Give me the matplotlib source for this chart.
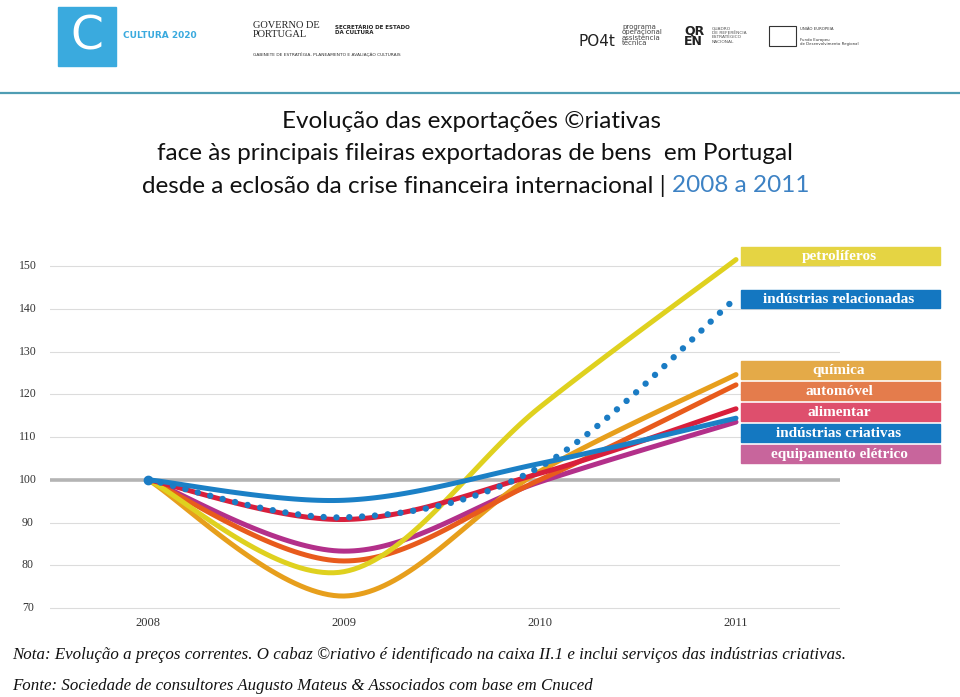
import numpy as np
import matplotlib
matplotlib.use("Agg")
import matplotlib.pyplot as plt
from matplotlib.patches import Rectangle

# data (index, 2008 = 100)
years = [2008, 2009, 2010, 2011]
petroliferos = [100, 78.5, 117.0, 151.5]
relacionadas = [100, 91.2, 103.0, 142.5]
quimica = [100, 72.8, 102.0, 124.6]
automovel = [100, 81.0, 100.0, 122.2]
alimentar = [100, 90.7, 101.5, 116.6]
criativas = [100, 95.2, 103.8, 114.4]
eletrico = [100, 83.3, 99.5, 113.5]

legend_labels = ["petrolíferos", "indústrias relacionadas", "química", "automóvel",
                 "alimentar", "indústrias criativas", "equipamento elétrico"]
yticks = [70, 80, 90, 100, 110, 120, 130, 140, 150]

W, H = 960, 697


def smooth(xs, ys, n=40):
    # excel-like smoothed line (bezier through the points)
    P = np.column_stack([xs, ys]).astype(float)
    out = []
    for i in range(len(P) - 1):
        p0 = P[max(i - 1, 0)]
        p1 = P[i]
        p2 = P[i + 1]
        p3 = P[min(i + 2, len(P) - 1)]
        c1 = p1 + (p2 - p0) / 6
        c2 = p2 - (p3 - p1) / 6
        t = np.linspace(0, 1, n)[:, None]
        seg = (1 - t) ** 3 * p1 + 3 * (1 - t) ** 2 * t * c1 + 3 * (1 - t) * t ** 2 * c2 + t ** 3 * p2
        out.append(seg if i == 0 else seg[1:])
    s = np.vstack(out)
    return s[:, 0], s[:, 1]


fig = plt.figure(figsize=(W / 100, H / 100), dpi=100)

# pixel -> data mapping of the plot
px_per_year = 196.0
px_per_unit = 4.275
ax_l, ax_r = 50, 840
ax_t, ax_b = 255, 615
x0 = 2008 - (148 - ax_l) / px_per_year
x1 = 2008 + (ax_r - 148) / px_per_year
y0 = 70 - (ax_b - 608) / px_per_unit
y1 = 150 + (266 - ax_t) / px_per_unit

ax = fig.add_axes([ax_l / W, 1 - ax_b / H, (ax_r - ax_l) / W, (ax_b - ax_t) / H])
ax.set_xlim(x0, x1)
ax.set_ylim(y0, y1)
for s in ax.spines.values():
    s.set_visible(False)
ax.set_xticks([])
ax.set_yticks([])

for v in yticks:
    if v == 100:
        ax.axhline(v, color="#b4b4b4", lw=2.6, zorder=1)
    else:
        ax.axhline(v, color="#dcdcdc", lw=0.8, zorder=0)
    ax.text(x0 - 22 / px_per_year, v, str(v), ha="center", va="center",
            fontsize=8.5, family="Liberation Serif", color="#333333")

for yr in years:
    ax.text(yr, y0 - 2 / px_per_unit, str(yr), ha="center", va="top",
            fontsize=9, family="Liberation Serif", color="#333333")

lines = [
    (eletrico, "#b3308a"),
    (quimica, "#e79f1c"),
    (automovel, "#e85b1c"),
    (petroliferos, "#dfd11f"),
    (alimentar, "#d81f3c"),
    (criativas, "#1b80c6"),
]
for vals, c in lines:
    sx, sy = smooth(years, vals)
    ax.plot(sx, sy, color=c, lw=3.6, solid_capstyle="round", zorder=3)

sx, sy = smooth(years, relacionadas)
ax.plot(sx, sy, color="#1b7cc4", lw=4.6, linestyle=(0, (0.01, 2.0)),
        dash_capstyle="round", zorder=4)
ax.plot([2008], [100], "o", color="#1b7cc4", ms=6, zorder=5)

# legend boxes
box_colors = ["#e5d443", "#1477c1", "#e4aa48", "#e47c4c", "#de4f6d", "#1478c1", "#c8659c"]
box_y = [247, 290, 361, 382, 403, 424, 445]
for lab, c, yb in zip(legend_labels, box_colors, box_y):
    fig.patches.append(Rectangle((741 / W, 1 - (yb + 18) / H), 199 / W, 18 / H,
                                 transform=fig.transFigure, color=c, zorder=5))
    fig.text(839 / W, 1 - (yb + 9.5) / H, lab, ha="center", va="center", color="white",
             fontsize=11, fontweight="bold", family="Liberation Serif", zorder=6)

# title
tsize = 17.5
tfont = dict(ha="center", va="center", fontsize=tsize, family="Lato", color="#111111")
fig.text(472 / W, 1 - 122 / H, "Evolução das exportações ©riativas", **tfont)
fig.text(475 / W, 1 - 154 / H, "face às principais fileiras exportadoras de bens  em Portugal", **tfont)
part_a = "desde a eclosão da crise financeira internacional | "
part_b = "2008 a 2011"
renderer = fig.canvas.get_renderer()
ta = fig.text(0, 1 - 186 / H, part_a, ha="left", va="center", fontsize=tsize,
              family="Lato", color="#111111")
tb = fig.text(0, 1 - 186 / H, part_b, ha="left", va="center", fontsize=tsize,
              family="Lato", color="#3d82c4")
wa = ta.get_window_extent(renderer).width
wb = tb.get_window_extent(renderer).width
start = 476 - (wa + wb) / 2
ta.set_x(start / W)
tb.set_x((start + wa) / W)

# header strip
fig.add_artist(plt.Line2D([0, 1], [1 - 93 / H, 1 - 93 / H], color="#4f9db3", lw=1.6))
fig.patches.append(Rectangle((58 / W, 1 - 66 / H), 58 / W, 59 / H, transform=fig.transFigure,
                             color="#3aaade", zorder=2))
fig.text(87 / W, 1 - 37 / H, "C", ha="center", va="center", fontsize=34, color="white",
         family="DejaVu Sans")
fig.text(123 / W, 1 - 36 / H, "CULTURA 2020", ha="left", va="center", fontsize=6.5,
         fontweight="bold", color="#3aaade")
fig.text(253 / W, 1 - 30 / H, "GOVERNO DE\nPORTUGAL", ha="left", va="center", fontsize=7.5,
         family="Liberation Serif", color="#222222", linespacing=0.95)
fig.text(335 / W, 1 - 30 / H, "SECRETÁRIO DE ESTADO\nDA CULTURA", ha="left", va="center",
         fontsize=4, fontweight="bold", color="#222222")
fig.text(253 / W, 1 - 55 / H, "GABINETE DE ESTRATÉGIA, PLANEAMENTO E AVALIAÇÃO CULTURAIS",
         ha="left", va="center", fontsize=3.2, color="#333333")
fig.text(578 / W, 1 - 42 / H, "PO4t", ha="left", va="center", fontsize=11, color="#222222")
fig.text(622 / W, 1 - 35 / H, "programa\noperacional\nassistência\ntécnica", ha="left",
         va="center", fontsize=5, color="#444444", linespacing=0.85)
fig.text(684 / W, 1 - 36 / H, "QR\nEN", ha="left", va="center", fontsize=9, fontweight="bold",
         color="#222222", linespacing=0.8)
fig.text(712 / W, 1 - 35 / H, "QUADRO\nDE REFERÊNCIA\nESTRATÉGICO\nNACIONAL", ha="left",
         va="center", fontsize=3.2, color="#555555")
fig.patches.append(Rectangle((769 / W, 1 - 46 / H), 27 / W, 20 / H, transform=fig.transFigure,
                             fill=False, ec="#333333", lw=0.8))
fig.text(800 / W, 1 - 29 / H, "UNIÃO EUROPEIA", ha="left", va="center", fontsize=2.8,
         color="#333333")
fig.text(800 / W, 1 - 42 / H, "Fundo Europeu\nde Desenvolvimento Regional", ha="left",
         va="center", fontsize=2.8, color="#333333")

# notes
nfont = dict(ha="left", va="center", fontsize=12.2, style="italic",
             family="Liberation Serif", color="#111111")
fig.text(12 / W, 1 - 655 / H, "Nota: Evolução a preços correntes. O cabaz ©riativo é identificado "
         "na caixa II.1 e inclui serviços das indústrias criativas.", **nfont)
fig.text(12 / W, 1 - 686 / H, "Fonte: Sociedade de consultores Augusto Mateus & Associados "
         "com base em Cnuced", **nfont)

fig.savefig("out.png", dpi=100)
